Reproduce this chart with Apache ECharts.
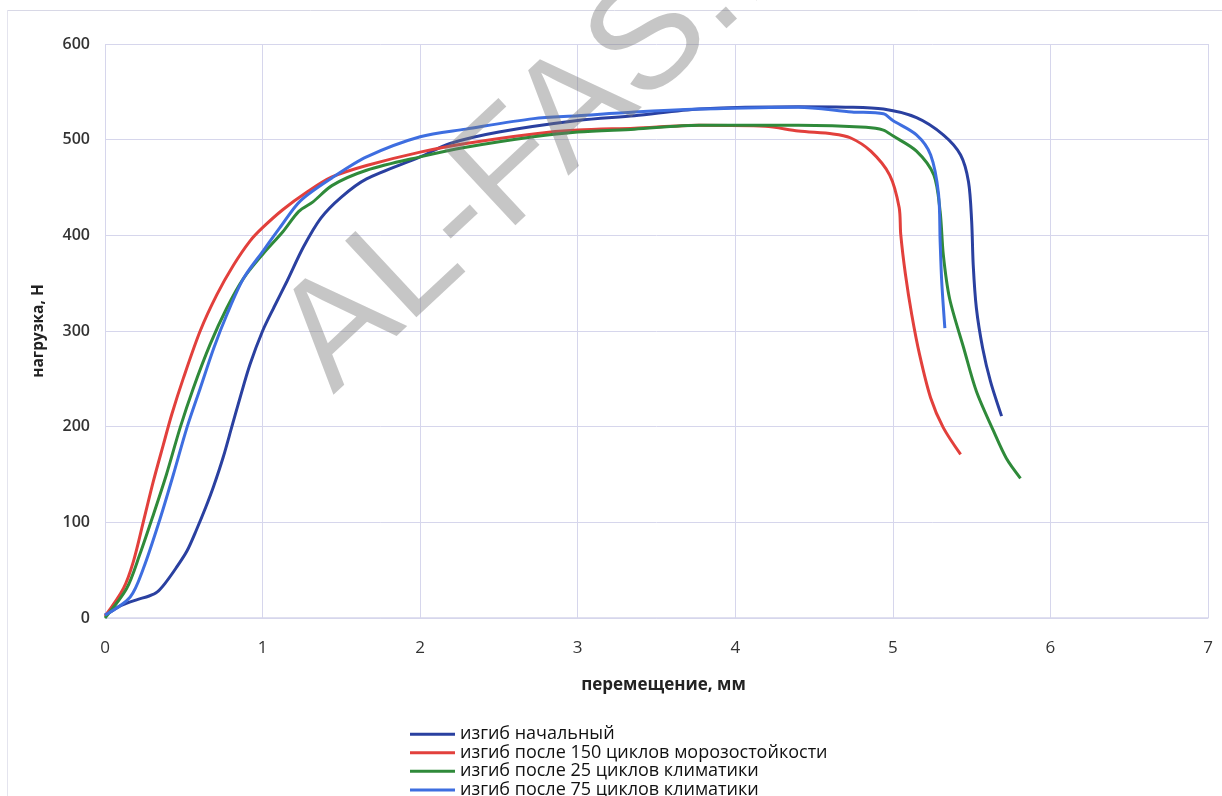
<!DOCTYPE html>
<html>
<head>
<meta charset="utf-8">
<script src="https://cdn.jsdelivr.net/npm/echarts@6/dist/echarts.min.js"></script>
<style>html,body{margin:0;padding:0;background:#fff}#c{width:1222px;height:796px}</style>
</head>
<body>
<div id="c"></div>
<script>
// ---- data (x = перемещение, мм; y = нагрузка, Н) ----
var seriesNames = [
  'изгиб начальный',
  'изгиб после 150 циклов морозостойкости',
  'изгиб после 25 циклов климатики',
  'изгиб после 75 циклов климатики'
];
var xTicks = [0,1,2,3,4,5,6,7];
var yTicks = [0,100,200,300,400,500,600];

var initialCurve = [[0,3],[0.05,8],[0.1,13],[0.2,19],[0.28,23],[0.33,27],[0.38,36],[0.45,52],[0.52,70],[0.58,92],[0.64,116],[0.69,138],[0.75,168],[0.805,200],[0.86,232],[0.92,265],[1.0,300],[1.07,324],[1.155,352],[1.26,388],[1.37,418],[1.5,440],[1.66,459],[2.0,482],[2.19,496],[2.5,508],[3.0,520],[3.36,525],[3.77,532],[4.4,534.5],[4.7,534],[4.94,532],[5.15,523],[5.32,505],[5.43,484],[5.48,456],[5.5,415],[5.51,369],[5.53,324],[5.57,282],[5.62,247],[5.69,211]];
var frost150Curve = [[0,2],[0.117,31],[0.18,59],[0.244,101],[0.307,143],[0.37,181],[0.424,213],[0.498,251],[0.604,300],[0.71,338],[0.816,369],[0.92,394],[1.0,408],[1.13,427],[1.28,445],[1.44,461],[1.66,473],[2.0,487],[2.29,496],[2.72,506],[3.0,510],[3.36,512],[3.77,515],[4.19,514],[4.4,509],[4.62,506],[4.73,502],[4.86,488],[4.98,463],[5.04,429],[5.05,401],[5.08,359],[5.12,317],[5.17,275],[5.24,230],[5.32,199],[5.43,171]];
var climate25Curve = [[0,0],[0.138,31],[0.22,66],[0.307,108],[0.39,150],[0.477,199],[0.56,240],[0.667,286],[0.773,324],[0.879,355],[1.0,380],[1.13,404],[1.23,425],[1.32,435],[1.44,452],[1.66,468],[2.0,482],[2.29,492],[2.72,503],[3.0,508],[3.36,511],[3.77,515],[4.4,515],[4.83,513],[4.94,510],[5.0,504],[5.15,488],[5.26,463],[5.3,425],[5.32,380],[5.36,334],[5.45,282],[5.53,237],[5.64,195],[5.72,167],[5.81,146]];
var climate75Curve = [[0,3],[0.16,22],[0.244,52],[0.35,104],[0.434,150],[0.52,199],[0.604,240],[0.69,282],[0.773,317],[0.879,355],[1.0,383],[1.11,408],[1.24,436],[1.44,460],[1.66,482],[2.0,503],[2.29,511],[2.72,522],[3.0,525],[3.36,529],[3.78,532],[4.4,534],[4.74,529],[4.94,527],[5.0,520],[5.15,505],[5.24,484],[5.29,443],[5.3,394],[5.31,352],[5.33,303]];

var curves = [initialCurve, frost150Curve, climate25Curve, climate75Curve];
var colors = ['#2a40a0', '#e2403c', '#2f8a3a', '#3e6ee0'];

var chart = echarts.init(document.getElementById('c'));
var gridColor = '#d6d6ec';
var option = {
  animation: false,
  backgroundColor: '#fff',
  grid: {left: 105, right: 14, top: 44, bottom: 178},
  legend: {
    orient: 'vertical', left: 410, top: 725, height: 140, padding: 0,
    icon: 'rect', itemWidth: 45, itemHeight: 3, itemGap: 0.3,
    textStyle: {fontFamily: "'Open Sans', sans-serif", fontSize: 18, color: '#111', lineHeight: 18.3, padding: [0,0,0,0]},
    data: seriesNames
  },
  xAxis: {
    type: 'value', min: 0, max: 7, interval: 1,
    name: 'перемещение, мм', nameLocation: 'middle', nameGap: 59,
    nameTextStyle: {fontFamily: "'Open Sans', sans-serif", fontWeight: 'bold', fontSize: 17, color: '#222', padding: [0,0,0,14]},
    axisLine: {show: true, lineStyle: {color: gridColor, width: 1.5}},
    axisTick: {show: false},
    axisLabel: {margin: 22, fontFamily: "'Liberation Sans Narrow', 'Open Sans', sans-serif", fontSize: 17, color: '#333',
      formatter: function(v){ return xTicks.indexOf(v) >= 0 ? String(v) : ''; }},
    splitLine: {show: true, lineStyle: {color: gridColor, width: 1}}
  },
  yAxis: {
    type: 'value', min: 0, max: 600, interval: 100,
    name: 'нагрузка, Н', nameLocation: 'middle', nameGap: 58,
    nameTextStyle: {fontFamily: "'Open Sans', sans-serif", fontWeight: 'bold', fontSize: 15.5, color: '#222'},
    axisLine: {show: false},
    axisTick: {show: false},
    axisLabel: {margin: 15, fontFamily: "'Open Sans', sans-serif", fontWeight: 600, fontSize: 16, color: '#333',
      formatter: function(v){ return yTicks.indexOf(v) >= 0 ? String(v) : ''; }},
    splitLine: {show: true, lineStyle: {color: gridColor, width: 1}}
  },
  series: curves.map(function(d, i){
    return {
      name: seriesNames[i], type: 'line', data: d, symbol: 'none', smooth: 0.3,
      color: colors[i], lineStyle: {width: 3, color: colors[i]}, z: 2 + i
    };
  }),
  graphic: [
    {type: 'line', shape: {x1: 7, y1: 10.5, x2: 1222, y2: 10.5}, style: {stroke: '#d8d8e6', lineWidth: 1}, z: 0},
    {type: 'line', shape: {x1: 7.5, y1: 10, x2: 7.5, y2: 796}, style: {stroke: '#e4e4ee', lineWidth: 1}, z: 0},
    {type: 'text', x: 336, y: 398, rotation: 43 * Math.PI / 180, z: 100,
      style: {text: 'AL-FAS.RU', x: 0, y: 30, font: "152px 'Liberation Sans', sans-serif",
        fill: 'rgba(120,120,120,0.42)', align: 'left', verticalAlign: 'bottom'}}
  ]
};
chart.setOption(option);
</script>
</body>
</html>
